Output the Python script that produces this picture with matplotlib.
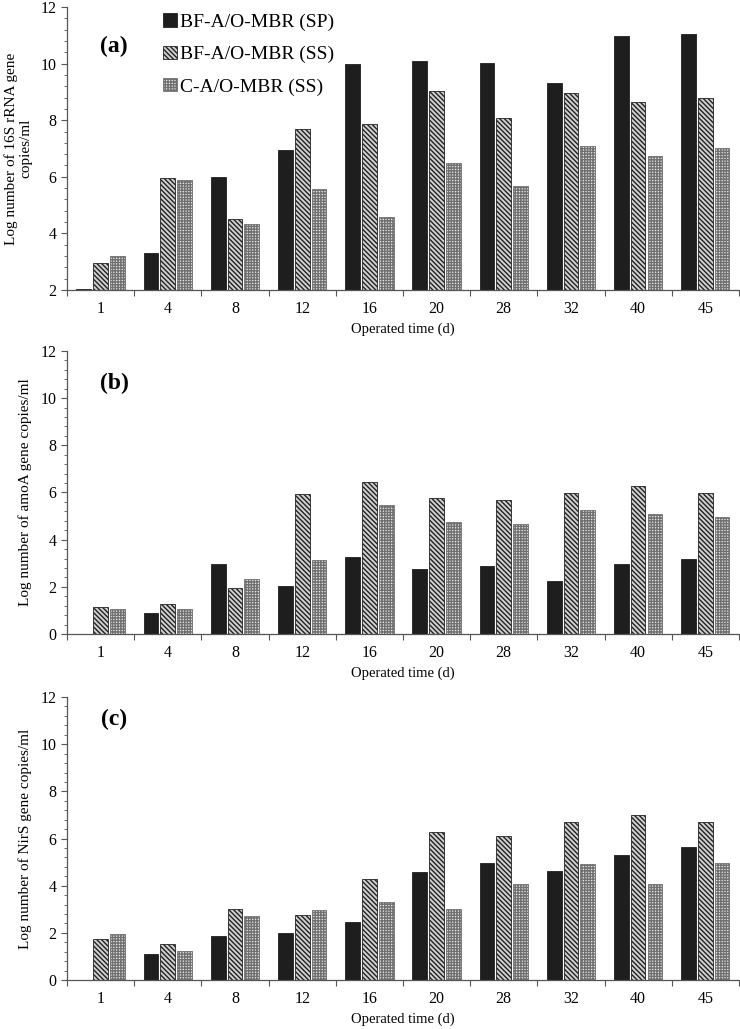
import numpy as np
import matplotlib.pyplot as plt

plt.rcParams['font.family'] = ['Liberation Serif', 'DejaVu Serif']
plt.rcParams['hatch.linewidth'] = 1.0

days = ['1', '4', '8', '12', '16', '20', '28', '32', '40', '45']
series = ['BF-A/O-MBR (SP)', 'BF-A/O-MBR (SS)', 'C-A/O-MBR (SS)']

# (a) 16S rRNA
rrna_sp = [2.02, 3.3, 5.98, 6.95, 10.0, 10.1, 10.02, 9.3, 10.98, 11.03]
rrna_ss = [2.97, 5.97, 4.5, 7.7, 7.85, 9.02, 8.08, 8.95, 8.65, 8.8]
rrna_c = [3.2, 5.87, 4.33, 5.57, 4.58, 6.5, 5.68, 7.1, 6.72, 7.0]

# (b) amoA
amoa_sp = [0.0, 0.9, 2.95, 2.05, 3.27, 2.77, 2.88, 2.25, 2.98, 3.18]
amoa_ss = [1.15, 1.25, 1.95, 5.95, 6.45, 5.75, 5.67, 5.98, 6.27, 5.98]
amoa_c = [1.05, 1.07, 2.35, 3.13, 5.45, 4.73, 4.68, 5.27, 5.08, 4.97]

# (c) NirS
nirs_sp = [0.0, 1.1, 1.87, 1.98, 2.47, 4.57, 4.98, 4.63, 5.3, 5.65]
nirs_ss = [1.72, 1.52, 3.0, 2.77, 4.3, 6.28, 6.12, 6.7, 7.0, 6.7]
nirs_c = [1.97, 1.25, 2.7, 2.97, 3.32, 3.02, 4.08, 4.9, 4.07, 4.95]

panels = [
    ('(a)', rrna_sp, rrna_ss, rrna_c, 2, 'Log number of 16S rRNA gene\ncopies/ml', 0.859),
    ('(b)', amoa_sp, amoa_ss, amoa_c, 0, 'Log number of amoA gene copies/ml', 0.887),
    ('(c)', nirs_sp, nirs_ss, nirs_c, 0, 'Log number of NirS gene copies/ml', 0.922),
]

fig = plt.figure(figsize=(7.4, 10.29), dpi=100)
boxes = [[0.0905, 0.7182, 0.908, 0.275],
         [0.0905, 0.3839, 0.908, 0.275],
         [0.0905, 0.0476, 0.908, 0.275]]

x = np.arange(len(days))
w = 0.22
off = 0.25
for box, (tag, sp, ss, c, ymin, ylab, ty) in zip(boxes, panels):
    ax = fig.add_axes(box)
    ax.bar(x - off, np.array(sp) - ymin, w, bottom=ymin, color='#1e1e1e',
           edgecolor='#1e1e1e', linewidth=0.6, label=series[0])
    ax.bar(x, np.array(ss) - ymin, w, bottom=ymin, color='#d0d0d0',
           edgecolor='#222222', hatch='\\\\\\\\\\\\\\', linewidth=0.6, label=series[1])
    ax.bar(x + off, np.array(c) - ymin, w, bottom=ymin, color='#e6e6e6',
           edgecolor='#707070', hatch='++++++', linewidth=0.6, label=series[2])
    ax.set_xlim(-0.5, len(days) - 0.5)
    ax.set_ylim(ymin, 12)
    ax.set_yticks(np.arange(ymin, 12.1, 2))
    ax.set_yticks(np.arange(ymin, 12.01, 0.4), minor=True)
    ax.set_xticks(np.arange(-0.5, len(days), 1))
    ax.set_xticklabels([])
    ax.set_xticks(x, minor=True)
    ax.set_xticklabels(days, minor=True, fontsize=11.5)
    ax.tick_params(axis='x', which='minor', length=0, pad=8)
    ax.tick_params(axis='x', which='major', length=4, direction='out', color='#555555')
    ax.tick_params(axis='y', which='major', length=4, labelsize=11.5, color='#555555')
    ax.tick_params(axis='y', which='minor', length=2, color='#555555')
    for s in ['top', 'right']:
        ax.spines[s].set_visible(False)
    for s in ['left', 'bottom']:
        ax.spines[s].set_color('#555555')
        ax.spines[s].set_linewidth(0.9)
    ax.set_xlabel('Operated time (d)', fontsize=10.5, labelpad=4)
    ax.set_ylabel(ylab, fontsize=11, labelpad=6, linespacing=1.1)
    ax.text(0.07, ty, tag, transform=ax.transAxes, fontsize=17,
            fontweight='bold', ha='center', va='center')
    if tag == '(a)':
        ax.legend(loc='upper left', bbox_to_anchor=(0.132, 1.005), frameon=False,
                  fontsize=14, handlelength=0.7, handleheight=0.7,
                  handletextpad=0.15, labelspacing=0.75, borderaxespad=0)

fig.savefig('out.png', dpi=100)
